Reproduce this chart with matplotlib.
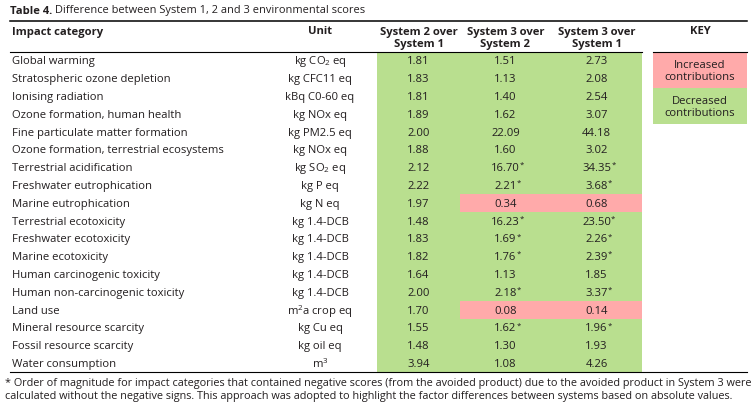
import matplotlib
matplotlib.use("Agg")
import matplotlib.pyplot as plt
from matplotlib.patches import Rectangle

plt.rcParams['font.family'] = ['Open Sans', 'DejaVu Sans']
plt.rcParams['mathtext.fontset'] = 'custom'
plt.rcParams['mathtext.rm'] = 'Open Sans'
plt.rcParams['mathtext.it'] = 'Open Sans'
plt.rcParams['mathtext.bf'] = 'Open Sans:bold'

title_bold = "Table 4."
title_rest = " Difference between System 1, 2 and 3 environmental scores"
headers = ["Impact category", "Unit", "System 2 over\nSystem 1",
           "System 3 over\nSystem 2", "System 3 over\nSystem 1", "KEY"]
categories = ["Global warming", "Stratospheric ozone depletion", "Ionising radiation",
              "Ozone formation, human health", "Fine particulate matter formation",
              "Ozone formation, terrestrial ecosystems", "Terrestrial acidification",
              "Freshwater eutrophication", "Marine eutrophication", "Terrestrial ecotoxicity",
              "Freshwater ecotoxicity", "Marine ecotoxicity", "Human carcinogenic toxicity",
              "Human non-carcinogenic toxicity", "Land use", "Mineral resource scarcity",
              "Fossil resource scarcity", "Water consumption"]
units = [r"kg CO$_2$ eq", "kg CFC11 eq", "kBq C0-60 eq", "kg NOx eq", "kg PM2.5 eq",
         "kg NOx eq", r"kg SO$_2$ eq", "kg P eq", "kg N eq", "kg 1.4-DCB", "kg 1.4-DCB",
         "kg 1.4-DCB", "kg 1.4-DCB", "kg 1.4-DCB", r"m$^2$a crop eq", "kg Cu eq",
         "kg oil eq", r"m$^3$"]
s2_over_s1 = [1.81, 1.83, 1.81, 1.89, 2.00, 1.88, 2.12, 2.22, 1.97, 1.48, 1.83, 1.82,
              1.64, 2.00, 1.70, 1.55, 1.48, 3.94]
s3_over_s2 = [1.51, 1.13, 1.40, 1.62, 22.09, 1.60, 16.70, 2.21, 0.34, 16.23, 1.69, 1.76,
              1.13, 2.18, 0.08, 1.62, 1.30, 1.08]
s3_over_s1 = [2.73, 2.08, 2.54, 3.07, 44.18, 3.02, 34.35, 3.68, 0.68, 23.50, 2.26, 2.39,
              1.85, 3.37, 0.14, 1.96, 1.93, 4.26]
# rows with negative scores (marked *) in System 3 columns
starred = [False, False, False, False, False, False, True, True, False, True, True, True,
           False, True, False, True, False, False]
# rows where System 3 columns show increased contributions
increased = [False] * 8 + [True] + [False] * 5 + [True] + [False] * 3
key_labels = ["Increased\ncontributions", "Decreased\ncontributions"]
footnote = ("* Order of magnitude for impact categories that contained negative scores (from the avoided product) "
            "due to the avoided product in System 3 were\ncalculated without the negative signs. This approach was "
            "adopted to highlight the factor differences between systems based on absolute values.")

GREEN = "#b9df8f"
PINK = "#ffaaaa"
TXT = "#231f20"

W, H = 756, 410
fig = plt.figure(figsize=(W / 100, H / 100), dpi=100)
ax = fig.add_axes([0, 0, 1, 1])
ax.set_xlim(0, W)
ax.set_ylim(H, 0)
ax.axis('off')

FS = 8.1
left, right = 10, 747
y_top, y_head = 22, 53
row_h = 17.8
n = len(categories)
y_bot = y_head + row_h * n
col_edges = [377, 460, 551, 642]
col_centers = [(col_edges[i] + col_edges[i + 1]) / 2 for i in range(3)]
unit_x = 320
key_l, key_r = 653, 747
key_x = (key_l + key_r) / 2

# title
t = ax.text(left, 11, title_bold, fontsize=FS, fontweight='bold', color=TXT, va='center', ha='left')
fig.canvas.draw()
bb = t.get_window_extent(renderer=fig.canvas.get_renderer())
ax.text(bb.x1, 11, title_rest, fontsize=FS * 0.98, color=TXT, va='center', ha='left')

# cell backgrounds
for i in range(n):
    y0 = y_head + row_h * i
    ax.add_patch(Rectangle((col_edges[0], y0), col_edges[1] - col_edges[0], row_h,
                           facecolor=GREEN, edgecolor='none'))
    c = PINK if increased[i] else GREEN
    ax.add_patch(Rectangle((col_edges[1], y0), col_edges[3] - col_edges[1], row_h,
                           facecolor=c, edgecolor='none'))

# key boxes
key_h = 36
ax.add_patch(Rectangle((key_l, y_head), key_r - key_l, key_h, facecolor=PINK, edgecolor='none'))
ax.add_patch(Rectangle((key_l, y_head + key_h), key_r - key_l, key_h, facecolor=GREEN, edgecolor='none'))
for k, lab in enumerate(key_labels):
    ax.text(key_x, y_head + key_h * (k + 0.5) + 0.5, lab, fontsize=FS, color=TXT,
            ha='center', va='center', linespacing=1.2)

# rules
ax.plot([left, right], [y_top, y_top], color='black', lw=1.1)
ax.plot([left, col_edges[3]], [y_head, y_head], color='black', lw=0.8)
ax.plot([key_l, key_r], [y_head, y_head], color='black', lw=0.8)
ax.plot([left, right], [y_bot, y_bot], color='black', lw=0.8)

# headers
hy = 38.5
ax.text(12, 32, headers[0], fontsize=FS, fontweight='bold', color=TXT, ha='left', va='center')
ax.text(unit_x, 32, headers[1], fontsize=FS, fontweight='bold', color=TXT, ha='center', va='center')
for j in range(3):
    ax.text(col_centers[j], hy, headers[2 + j], fontsize=FS, fontweight='bold', color=TXT,
            ha='center', va='center', linespacing=1.1)
ax.text(key_x, 32, headers[5], fontsize=FS, fontweight='bold', color=TXT, ha='center', va='center')

# body
for i in range(n):
    yc = y_head + row_h * (i + 0.5)
    ax.text(12, yc, categories[i], fontsize=FS, color=TXT, ha='left', va='center')
    ax.text(unit_x, yc, units[i], fontsize=FS, color=TXT, ha='center', va='center')
    ax.text(col_centers[0], yc, f"{s2_over_s1[i]:.2f}", fontsize=FS, color=TXT, ha='center', va='center')
    for j, vals in enumerate([s3_over_s2, s3_over_s1]):
        s = f"{vals[i]:.2f}"
        ax.text(col_centers[1 + j], yc, s, fontsize=FS, color=TXT, ha='center', va='center')
        if starred[i]:
            tt = ax.text(col_centers[1 + j], yc, s, fontsize=FS, color='none', ha='center', va='center')
            fig.canvas.draw()
            b = tt.get_window_extent(renderer=fig.canvas.get_renderer())
            xr = ax.transData.inverted().transform((b.x1, b.y0))[0]
            ax.text(xr + 0.2, yc - 3, "*", fontsize=FS * 0.7, color=TXT, ha='left', va='center')

# footnote
ax.text(5, 390, footnote, fontsize=7.8, color=TXT, ha='left', va='center', linespacing=1.2)

fig.savefig("out.png", dpi=100)
